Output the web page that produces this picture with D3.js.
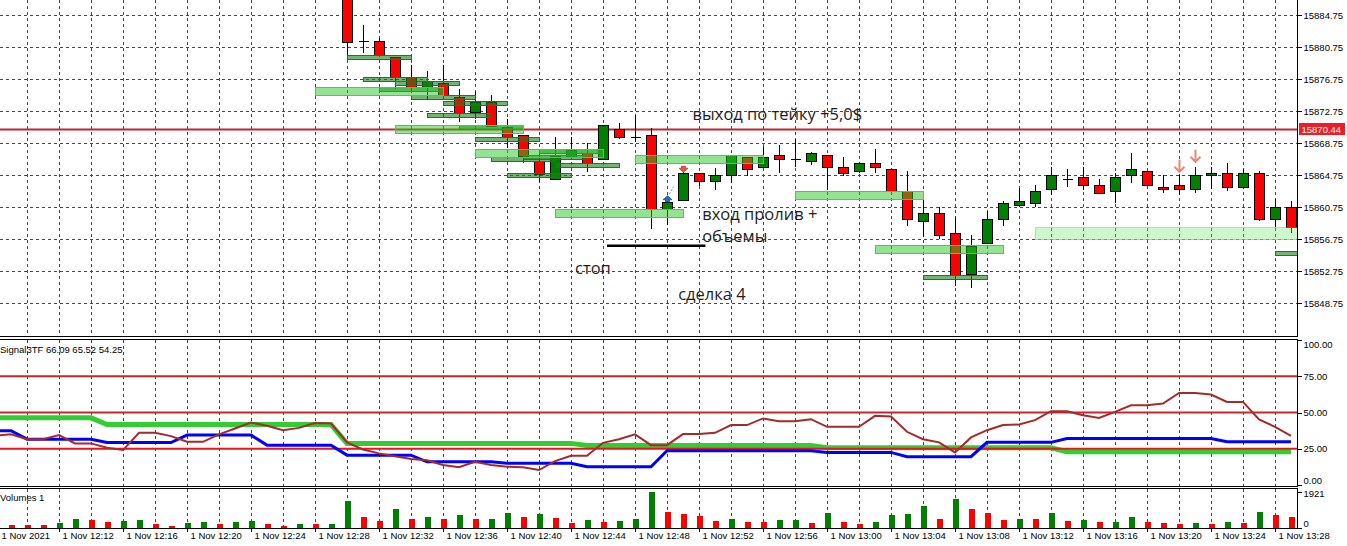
<!DOCTYPE html>
<html>
<head>
<meta charset="utf-8">
<script src="https://cdn.jsdelivr.net/npm/d3@7"></script>
<style>
  body { margin: 0; background: #fff; overflow: hidden; }
  svg { display: block; }
  text { font-family: "Liberation Sans", Arial, sans-serif; }
</style>
</head>
<body>
<svg id="chart"></svg>
<script>
// minutes are counted from 12:00
const firstBarMinute = 9      // volumes start at 12:09
const firstSignalMinute = 8   // indicator starts one bar earlier, just off the left edge
const firstCandleMinute = 30  // earlier candles are above the visible price range

// volumes 12:09 .. 13:29
const volumes = [170, 165, 160, 275, 470, 415, 310, 360, 415, 220, 110, 260, 310, 220, 310, 360, 220, 110, 200, 195,
  205, 1450, 570, 360, 990, 470, 570, 470, 675, 470, 480, 780, 570, 725, 520, 260, 415, 310, 360, 470,
  1921, 880, 725, 625, 360, 470, 310, 305, 415, 420, 260, 780, 310, 220, 310, 700, 730, 1195, 470, 1560,
  1040, 780, 415, 470, 460, 780, 360, 415, 310, 320, 570, 310, 260, 220, 260, 220, 310, 260, 830, 675, 570]

// Signal3TF lines 12:08 .. 13:29
const sigGreen = [46.3, 46.3, 46.3, 46.3, 46.3, 46.3, 46.3, 41.7, 41.7, 41.7, 41.7, 41.7, 41.7, 41.7, 41.7, 41.7, 41.7, 41.7, 41.7, 41.7, 41.7,
  41.7, 28.7, 28.7, 28.7, 28.7, 28.7, 28.7, 28.7, 28.7, 28.7, 28.7, 28.7, 28.7, 28.7, 28.7, 28.7, 27.3, 27.3, 27.3, 27.3,
  27.3, 27.3, 27.3, 27.3, 27.3, 27.3, 27.3, 27.3, 27.3, 27.3, 27.3, 25.7, 25.7, 25.7, 25.7, 25.7, 25.7, 25.7, 25.7, 25.7,
  25.7, 25.7, 25.7, 25.7, 25.7, 25.7, 22.9, 22.9, 22.9, 22.9, 22.9, 22.9, 22.9, 22.9, 22.9, 22.9, 22.9, 22.9, 22.9, 22.9, 22.9]
const sigBlue = [37.4, 37.4, 31.6, 31.6, 31.6, 31.6, 31.6, 29.3, 29.3, 29.3, 29.3, 29.3, 34.4, 34.4, 34.4, 34.4, 34.4, 27.5, 27.5, 27.5, 27.5,
  27.5, 20.6, 20.6, 20.6, 20.6, 20.6, 16.0, 16.0, 16.0, 16.0, 16.0, 15.0, 15.0, 15.0, 15.0, 15.0, 12.6, 12.6, 12.6, 12.6,
  12.6, 23.6, 23.6, 23.6, 23.6, 23.6, 23.6, 23.6, 23.6, 23.6, 23.6, 22.5, 22.5, 22.5, 22.5, 22.5, 19.5, 19.5, 19.5, 19.5,
  19.5, 29.4, 29.4, 29.4, 29.4, 29.4, 32.1, 32.1, 32.1, 32.1, 32.1, 32.1, 32.1, 32.1, 32.1, 32.1, 29.8, 29.8, 29.8, 29.8, 29.8]
const sigBrown = [34.0, 35.0, 31.6, 31.6, 34.4, 28.7, 28.7, 25.7, 24.1, 36.0, 36.0, 33.7, 29.8, 29.8, 34.9, 39.0, 43.1, 40.8, 37.8, 39.4, 42.8,
  42.4, 29.4, 24.5, 21.8, 19.9, 17.9, 17.0, 13.8, 12.2, 16.0, 13.8, 12.6, 12.2, 10.3, 16.5, 20.2, 20.2, 29.1, 31.6, 34.9,
  27.5, 27.5, 35.1, 35.1, 36.0, 41.3, 41.3, 45.9, 44.0, 44.0, 45.4, 40.1, 40.1, 40.1, 47.7, 47.2, 36.7, 31.6, 29.4, 22.5,
  32.8, 37.8, 41.3, 41.7, 44.7, 50.9, 50.9, 48.1, 46.3, 50.4, 55.0, 55.0, 56.2, 63.5, 63.5, 62.4, 57.3, 57.3, 45.2, 40.1, 33.9]
const levels = [75, 50, 25]

// candles 12:30 .. 13:29
const open = [15889.75, 15881.45, 15881.45, 15879.45, 15876.95, 15875.7, 15876.2, 15874.45, 15872.7, 15873.9,
  15870.7, 15869.7, 15866.55, 15864.2, 15867.05, 15867.45, 15866.7, 15870.45, 15869.45, 15869.75,
  15860.5, 15861.7, 15864.95, 15863.95, 15864.7, 15866.95, 15865.7, 15867.25, 15866.7, 15866.5,
  15867.25, 15865.7, 15865.25, 15866.2, 15865.5, 15862.75, 15858.95, 15859.95, 15857.45, 15852.45,
  15856.2, 15859.2, 15860.95, 15861.2, 15862.95, 15864.25, 15864.45, 15863.45, 15862.7, 15864.7,
  15865.25, 15863.2, 15863.45, 15862.95, 15864.7, 15865.0, 15863.2, 15865.0, 15859.2, 15860.7]
const high = [15890.25, 15883.5, 15881.9, 15879.5, 15878.5, 15877.75, 15878.5, 15875.5, 15875.1, 15874.7,
  15871.7, 15869.75, 15867.9, 15869.55, 15869.55, 15868.8, 15871.0, 15871.3, 15872.25, 15870.6,
  15861.5, 15865.1, 15865.0, 15865.6, 15867.3, 15867.0, 15868.25, 15868.5, 15869.2, 15867.6,
  15867.3, 15866.95, 15866.3, 15867.95, 15865.5, 15865.25, 15861.7, 15860.7, 15859.45, 15857.2,
  15860.2, 15861.5, 15863.1, 15863.5, 15865.75, 15865.5, 15865.75, 15864.2, 15865.0, 15867.55,
  15865.3, 15864.7, 15864.7, 15865.75, 15865.75, 15866.25, 15865.5, 15865.25, 15861.7, 15861.5]
const low = [15879.4, 15880.0, 15879.75, 15875.5, 15875.4, 15874.25, 15874.6, 15871.4, 15871.75, 15870.9,
  15868.1, 15866.2, 15863.9, 15864.2, 15866.9, 15865.15, 15866.7, 15869.2, 15868.9, 15857.95,
  15858.5, 15861.7, 15863.4, 15862.9, 15863.7, 15864.6, 15865.6, 15864.95, 15865.8, 15866.0,
  15862.9, 15864.6, 15864.95, 15864.95, 15862.7, 15858.4, 15856.95, 15856.7, 15850.9, 15850.65,
  15856.2, 15858.4, 15860.7, 15860.7, 15862.25, 15863.2, 15862.9, 15862.4, 15861.2, 15863.7,
  15863.4, 15862.45, 15862.2, 15862.45, 15862.95, 15862.7, 15863.2, 15858.95, 15858.2, 15857.45]
const close = [15881.4, 15881.45, 15879.75, 15876.95, 15875.7, 15876.45, 15874.7, 15872.45, 15873.9, 15870.95,
  15869.45, 15867.05, 15864.95, 15867.1, 15867.9, 15866.2, 15871.0, 15869.45, 15869.45, 15860.5,
  15861.4, 15865.05, 15863.95, 15864.7, 15867.2, 15865.45, 15866.95, 15866.7, 15866.7, 15867.55,
  15865.7, 15864.95, 15866.2, 15865.7, 15862.75, 15859.2, 15859.95, 15857.2, 15852.15, 15855.9,
  15859.2, 15861.2, 15861.5, 15862.75, 15864.75, 15864.25, 15863.45, 15862.45, 15864.45, 15865.5,
  15863.45, 15862.95, 15862.95, 15864.7, 15865.0, 15863.2, 15865.0, 15859.2, 15860.7, 15858.2]

// volume zones drawn on the price chart (minute start/end, price top/bottom)
const zoneStart = [30, 31, 32, 33, 34, 36, 35, 37, 38, 39, 40, 41, 42, 43, 66, 88, 28, 33, 38, 48, 43, 58, 63, 73]
const zoneEnd = [34, 35, 36, 37, 38, 40, 39, 41, 42, 43, 44, 45, 46, 47, 70, 92, 36, 41, 46, 56, 51, 66, 71, 95]
const zoneTop = [15879.75, 15877.0, 15875.75, 15876.5, 15874.75, 15874.0, 15872.5, 15871.0, 15869.5, 15867.0, 15865.0, 15867.25,
  15868.0, 15866.25, 15852.25, 15855.25, 15875.75, 15871.0, 15868.0, 15867.25, 15860.5, 15862.75, 15856.0, 15858.25]
const zoneBottom = [15879.25, 15876.5, 15875.25, 15876.0, 15874.25, 15873.5, 15872.0, 15870.5, 15869.0, 15866.5, 15864.5, 15866.75,
  15867.5, 15865.75, 15851.75, 15854.75, 15874.75, 15870.0, 15867.0, 15866.25, 15859.5, 15861.75, 15855.0, 15856.75]
const zoneKind = ['dark', 'dark', 'dark', 'dark', 'dark', 'dark', 'dark', 'dark', 'dark', 'dark', 'dark', 'dark',
  'dark', 'dark', 'dark', 'dark', 'light', 'light', 'light', 'light', 'light', 'light', 'light', 'pale']

// trade markers
const markMinute = [50, 51, 82, 83]
const markPrice = [15861.41, 15865.09, 15865.16, 15866.41]
const markKind = ['buy', 'sell', 'down', 'down']

const takeProfit = 15870.44

const priceTicks = [15884.75, 15880.75, 15876.75, 15872.75, 15868.75, 15864.75, 15860.75, 15856.75, 15852.75, 15848.75]
const timeTicks = [8, 12, 16, 20, 24, 28, 32, 36, 40, 44, 48, 52, 56, 60, 64, 68, 72, 76, 80, 84, 88]
const timeLabels = ['1 Nov 2021', '1 Nov 12:12', '1 Nov 12:16', '1 Nov 12:20', '1 Nov 12:24', '1 Nov 12:28', '1 Nov 12:32',
  '1 Nov 12:36', '1 Nov 12:40', '1 Nov 12:44', '1 Nov 12:48', '1 Nov 12:52', '1 Nov 12:56', '1 Nov 13:00', '1 Nov 13:04',
  '1 Nov 13:08', '1 Nov 13:12', '1 Nov 13:16', '1 Nov 13:20', '1 Nov 13:24', '1 Nov 13:28']

// notes written on the chart
const noteText = ['выход по тейку +5,0$', 'вход пролив +', 'объемы', 'стоп', 'сделка 4']
const noteMinute = [51.6, 52.2, 52.2, 44.25, 50.7]
const notePrice = [15872.4, 15860.0, 15857.25, 15853.25, 15849.9]
const stopLine = { from: 46.25, to: 52.4, price: 15855.9 }

const width = 1347
const height = 546
const axisX = 1297.5
const mainP = { top: 0, bottom: 336.5 }
const indP = { top: 339.5, bottom: 486 }
const volP = { top: 488.5, bottom: 528 }

const svg = d3.select('#chart').attr('width', width).attr('height', height)

const x = d3.scaleLinear().domain([9, 89]).range([11, 1291])
const y = d3.scaleLinear().domain([15848.75, 15884.75]).range([303, 15])
const yInd = d3.scaleLinear().domain([0, 100]).range([485, 340])
const yVol = d3.scaleLinear().domain([0, 1921]).range([528, 492])

const px = v => Math.round(v) + 0.5

// clip areas for the three panels
const defs = svg.append('defs')
function clip (id, p) {
  defs.append('clipPath').attr('id', id)
    .append('rect').attr('x', 0).attr('y', p.top).attr('width', axisX).attr('height', p.bottom - p.top)
}
clip('cMain', mainP)
clip('cInd', indP)
clip('cVol', volP)

const gMain = svg.append('g').attr('clip-path', 'url(#cMain)')
const gInd = svg.append('g').attr('clip-path', 'url(#cInd)')
const gVol = svg.append('g').attr('clip-path', 'url(#cVol)')

// grid
const gridMinutes = d3.range(10, 89, 2)
const gridColor = '#3e4a4a'
;[[gMain, mainP], [gInd, indP], [gVol, volP]].forEach(([g, p]) => {
  g.append('g').selectAll('line').data(gridMinutes).enter().append('line')
    .attr('x1', d => px(x(d))).attr('x2', d => px(x(d)))
    .attr('y1', p.top).attr('y2', p.bottom)
    .attr('stroke', gridColor).attr('stroke-dasharray', '3,3').attr('shape-rendering', 'crispEdges')
})
gMain.append('g').selectAll('line').data(priceTicks).enter().append('line')
  .attr('x1', 0).attr('x2', axisX)
  .attr('y1', d => px(y(d))).attr('y2', d => px(y(d)))
  .attr('stroke', gridColor).attr('stroke-dasharray', '3,3').attr('shape-rendering', 'crispEdges')

// take profit level
gMain.append('line')
  .attr('x1', 0).attr('x2', axisX).attr('y1', y(takeProfit)).attr('y2', y(takeProfit))
  .attr('stroke', '#c4262b').attr('stroke-width', 2)

// candles
const candles = open.map((o, i) => ({ m: firstCandleMinute + i, o, h: high[i], l: low[i], c: close[i] }))
const gC = gMain.append('g').attr('shape-rendering', 'crispEdges')
gC.selectAll('line.wick').data(candles).enter().append('line')
  .attr('x1', d => px(x(d.m))).attr('x2', d => px(x(d.m)))
  .attr('y1', d => y(d.h)).attr('y2', d => y(d.l))
  .attr('stroke', '#000')
gC.selectAll('rect.body').data(candles.filter(d => Math.abs(d.o - d.c) >= 0.06)).enter().append('rect')
  .attr('x', d => px(x(d.m)) - 5)
  .attr('width', 10)
  .attr('y', d => px(y(Math.max(d.o, d.c))))
  .attr('height', d => Math.max(1, Math.round(y(Math.min(d.o, d.c)) - y(Math.max(d.o, d.c)))))
  .attr('fill', d => d.c > d.o ? '#008000' : '#ff0000')
  .attr('stroke', '#000')
gC.selectAll('line.doji').data(candles.filter(d => Math.abs(d.o - d.c) < 0.06)).enter().append('line')
  .attr('x1', d => px(x(d.m)) - 5).attr('x2', d => px(x(d.m)) + 5)
  .attr('y1', d => px(y(d.o))).attr('y2', d => px(y(d.o)))
  .attr('stroke', '#000')

// zones
const zoneStyle = {
  dark: { fill: 'rgba(20,130,20,0.6)', stroke: '#2b6f2b' },
  light: { fill: 'rgba(40,200,40,0.5)', stroke: '#55c455' },
  pale: { fill: 'rgba(110,235,110,0.35)', stroke: 'rgba(90,215,90,0.55)' }
}
const zones = zoneStart.map((s, i) => ({ s, e: zoneEnd[i], t: zoneTop[i], b: zoneBottom[i], k: zoneKind[i] }))
gMain.append('g').attr('shape-rendering', 'crispEdges')
  .selectAll('rect').data(zones).enter().append('rect')
  .attr('x', d => px(x(d.s)))
  .attr('width', d => x(d.e) - x(d.s))
  .attr('y', d => px(y(d.t)))
  .attr('height', d => Math.round(y(d.b) - y(d.t)))
  .attr('fill', d => zoneStyle[d.k].fill)
  .attr('stroke', d => zoneStyle[d.k].stroke)

// markers
markMinute.forEach((m, i) => {
  const cx = px(x(m))
  const cy = y(markPrice[i])
  const kind = markKind[i]
  if (kind === 'buy') {
    gMain.append('path')
      .attr('d', `M${cx},${cy - 6} L${cx + 4.5},${cy - 2} L${cx + 2},${cy - 2} L${cx + 2},${cy} L${cx - 2},${cy} L${cx - 2},${cy - 2} L${cx - 4.5},${cy - 2} Z`)
      .attr('fill', '#1f6fc0').attr('stroke', '#15548f').attr('stroke-width', 0.8)
    gMain.append('line')
      .attr('x1', cx + 2).attr('y1', cy - 8).attr('x2', cx + 6).attr('y2', cy - 15)
      .attr('stroke', '#1f6fc0').attr('stroke-dasharray', '1.5,2')
  } else if (kind === 'sell') {
    gMain.append('path')
      .attr('d', `M${cx},${cy} L${cx + 4.5},${cy - 4} L${cx + 2},${cy - 4} L${cx + 2},${cy - 6} L${cx - 2},${cy - 6} L${cx - 2},${cy - 4} L${cx - 4.5},${cy - 4} Z`)
      .attr('fill', '#e2553a').attr('stroke', '#b8402a').attr('stroke-width', 0.8)
  } else {
    gMain.append('path')
      .attr('d', `M${cx},${cy - 12} L${cx},${cy} M${cx - 5},${cy - 5} L${cx},${cy} L${cx + 5},${cy - 5}`)
      .attr('fill', 'none').attr('stroke', '#f3866f').attr('stroke-width', 2)
  }
})

// notes
noteText.forEach((t, i) => {
  gMain.append('text')
    .attr('x', x(noteMinute[i])).attr('y', y(notePrice[i]))
    .attr('dominant-baseline', 'central')
    .style('font-family', '"Open Sans", "Noto Sans", sans-serif')
    .style('font-size', '16.5px')
    .attr('fill', '#1e1e1e')
    .text(t)
})
gMain.append('line')
  .attr('x1', x(stopLine.from)).attr('x2', x(stopLine.to))
  .attr('y1', y(stopLine.price)).attr('y2', y(stopLine.price))
  .attr('stroke', '#000').attr('stroke-width', 2.5)

// indicator panel
const lineInd = d3.line().x((d, i) => x(firstSignalMinute + i)).y(d => yInd(d))
gInd.append('path').attr('d', lineInd(sigGreen)).attr('fill', 'none').attr('stroke', '#32cd32').attr('stroke-width', 5)
levels.forEach(l => {
  gInd.append('line').attr('x1', 0).attr('x2', axisX).attr('y1', yInd(l)).attr('y2', yInd(l))
    .attr('stroke', l === 25 ? '#e8161b' : '#c4262b').attr('stroke-width', 2)
})
gInd.append('path').attr('d', lineInd(sigBlue)).attr('fill', 'none').attr('stroke', '#0000ff').attr('stroke-width', 3)
gInd.append('path').attr('d', lineInd(sigBrown)).attr('fill', 'none').attr('stroke', '#a52a2a').attr('stroke-width', 2)

// volumes, green when the volume grew against the previous bar
gVol.append('g').attr('shape-rendering', 'crispEdges')
  .selectAll('rect').data(volumes).enter().append('rect')
  .attr('x', (d, i) => Math.round(x(firstBarMinute + i)) - 2)
  .attr('width', 6)
  .attr('y', d => yVol(d))
  .attr('height', d => volP.bottom - yVol(d))
  .attr('fill', (d, i) => i > 0 && d > volumes[i - 1] ? '#008000' : '#ff0000')

// panel labels
const label = (t, yy) => svg.append('text').attr('x', 0).attr('y', yy).attr('dominant-baseline', 'central')
  .style('font-size', '9.5px').attr('fill', '#000').text(t)
label('Signal3TF 66.09 65.52 54.25', 349)
label('Volumes 1', 497)

// frames
const frame = svg.append('g').attr('stroke', '#000').attr('shape-rendering', 'crispEdges')
;[mainP.bottom, indP.top, indP.bottom, volP.top, volP.bottom].forEach(yy => {
  frame.append('line').attr('x1', 0).attr('x2', axisX).attr('y1', yy).attr('y2', yy)
})
;[mainP, indP, volP].forEach(p => {
  frame.append('line').attr('x1', axisX).attr('x2', axisX).attr('y1', p.top).attr('y2', p.bottom)
})

// right axes
function rightAxis (scale, values, fmt, fixLabel) {
  const g = svg.append('g').attr('transform', `translate(${axisX},0)`)
    .call(d3.axisRight(scale).tickValues(values).tickSize(4).tickPadding(2).tickFormat(fmt))
  g.select('.domain').remove()
  g.selectAll('text').style('font-size', '9.5px').style('font-family', '"Liberation Sans", Arial, sans-serif').attr('fill', '#000')
  g.selectAll('line').attr('shape-rendering', 'crispEdges')
  if (fixLabel) g.selectAll('text').attr('dy', fixLabel)
  return g
}
rightAxis(y, priceTicks, d3.format('.2f'))
rightAxis(yInd, [0, 25, 50, 75, 100], d3.format('.2f'), d => d === 100 ? '0.75em' : d === 0 ? '-0.2em' : '0.32em')
rightAxis(yVol, [0, 1921], d3.format('d'), d => d === 1921 ? '0.5em' : '-0.2em')

// take profit price tag
const tp = svg.append('g').attr('transform', `translate(1299,${Math.round(y(takeProfit)) - 6})`)
tp.append('rect').attr('width', 46).attr('height', 12).attr('fill', '#ee1c24')
tp.append('text').attr('x', 2.5).attr('y', 6).attr('dominant-baseline', 'central')
  .style('font-size', '9.5px').attr('fill', '#fff').text(d3.format('.2f')(takeProfit))

// time axis; the first (date) label is kept inside the picture
const gx = svg.append('g').attr('transform', `translate(0,${volP.bottom})`)
  .call(d3.axisBottom(x).tickValues(timeTicks).tickSize(4).tickFormat((d, i) => timeLabels[i]))
gx.select('.domain').remove()
gx.selectAll('line').attr('shape-rendering', 'crispEdges')
gx.selectAll('text').attr('text-anchor', 'start').attr('x', (d, i) => i === 0 ? 6 : 3).attr('y', 4)
  .style('font-size', '9.5px').style('font-family', '"Liberation Sans", Arial, sans-serif').attr('fill', '#000')
</script>
</body>
</html>
